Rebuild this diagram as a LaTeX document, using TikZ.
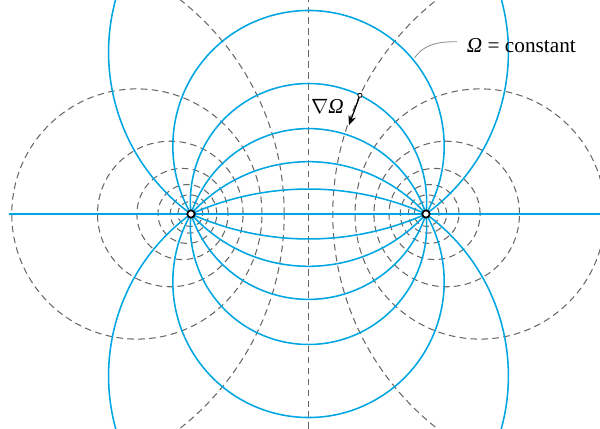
\documentclass[tikz,border=0pt]{standalone}
\usepackage{fontspec}
\setmainfont{Liberation Serif}
\usepackage{tikz}
\usetikzlibrary{arrows.meta}
\definecolor{fieldblue}{RGB}{0,166,226}

\begin{document}
\begin{tikzpicture}[x=2cm,y=2cm,
    omega/.style={fieldblue,line width=0.75pt},
    tau/.style={black!60,line width=0.5pt,dash pattern=on 3.2pt off 2.1pt},
    focus/.style={circle,draw=black,fill=white,line width=0.85pt,minimum size=0.125cm,inner sep=0pt},
    lbl/.style={font=\fontsize{10.3}{12}\selectfont,inner sep=0pt}]
  \useasboundingbox (-2.6255,-1.8298) rectangle (2.4809,1.8213);
  \begin{scope}
    \clip (-2.6255,-1.8298) rectangle (2.4809,1.8213);
    % tau = constant
    \draw[tau] (0,-1.8298) -- (0,1.8213);
    \foreach \k in {1,...,7} {
      \pgfmathsetmacro{\tv}{0.418879*\k}
      \pgfmathsetmacro{\ctr}{cosh(\tv)/sinh(\tv)}
      \pgfmathsetmacro{\rad}{1/sinh(\tv)}
      \draw[tau] (-\ctr,0) circle[radius=\rad];
      \draw[tau] (\ctr,0) circle[radius=\rad];
    }
    % Omega = constant
    \draw[omega] (-2.549,0) -- (2.4809,0);
    \foreach \s in {36,60,...,156} {
      \draw[omega] (1,0) arc[start angle=\s-90,end angle=270-\s,radius={1/sin(\s)}];
      \draw[omega] (1,0) arc[start angle=90-\s,end angle=\s-270,radius={1/sin(\s)}];
    }
  \end{scope}
  \node[focus] (F1) at (-1,0) {};
  \node[focus] (F2) at (1,0) {};
  % labels
  \node[lbl,anchor=west] (omlabel) at (1.345,1.436) {\textit{Ω} = constant};
  \coordinate (leadfoot) at (0.904,1.330);
  \draw[black!45,line width=0.4pt] (leadfoot) to[out=55,in=180] ([shift={(-0.08,0.03)}]omlabel.west);
  \node[circle,draw=black,fill=white,line width=0.4pt,minimum size=0.07cm,inner sep=0pt] (tailmark) at (0.438,1.010) {};
  \coordinate (gradtip) at (0.345,0.757);
  \draw[-{Stealth[length=4.5pt,width=3.8pt]},line width=0.6pt] (tailmark) -- (gradtip);
  \node[lbl] (gradlabel) at (0.162,0.913) {$\nabla$\textit{Ω}};
\end{tikzpicture}
\end{document}
